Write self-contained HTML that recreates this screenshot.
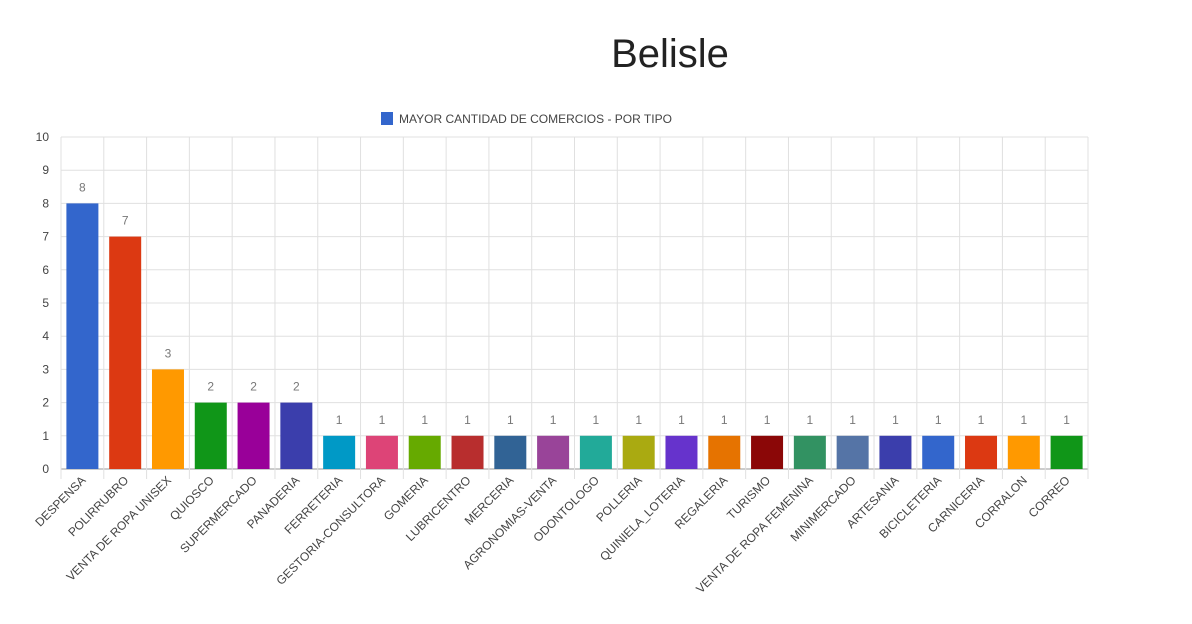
<!DOCTYPE html>
<html><head><meta charset="utf-8"><style>
body{margin:0;background:#fff;font-family:"Liberation Sans",Arial,sans-serif;}
</style></head><body>
<svg width="1192" height="619" xmlns="http://www.w3.org/2000/svg" id="chart">
<text x="670" y="67" text-anchor="middle" font-size="40" fill="#222">Belisle</text>
<g>
<rect x="381" y="112" width="12" height="13" fill="#3366cc"/>
<text x="399" y="123" font-size="12" fill="#444">MAYOR CANTIDAD DE COMERCIOS - POR TIPO</text>
</g>
<g id="grid"></g><g id="bars"></g><g id="labels"></g>
</svg>
<script>
const categories=["DESPENSA","POLIRRUBRO","VENTA DE ROPA UNISEX","QUIOSCO","SUPERMERCADO","PANADERIA","FERRETERIA","GESTORIA-CONSULTORA","GOMERIA","LUBRICENTRO","MERCERIA","AGRONOMIAS-VENTA","ODONTOLOGO","POLLERIA","QUINIELA_LOTERIA","REGALERIA","TURISMO","VENTA DE ROPA FEMENINA","MINIMERCADO","ARTESANIA","BICICLETERIA","CARNICERIA","CORRALON","CORREO"];
const values=[8,7,3,2,2,2,1,1,1,1,1,1,1,1,1,1,1,1,1,1,1,1,1,1];
const yTicks=[0,1,2,3,4,5,6,7,8,9,10];
const colors=["#3366cc","#dc3912","#ff9900","#109618","#990099","#3b3eac","#0099c6","#dd4477","#66aa00","#b82e2e","#316395","#994499","#22aa99","#aaaa11","#6633cc","#e67300","#8b0707","#329262","#5574a6","#3b3eac","#3366cc","#dc3912","#ff9900","#109618"];
const NS="http://www.w3.org/2000/svg";
const L=61,R=1088,T=137,B=469,yMax=10;
const bw=(R-L)/categories.length;
const y=v=>B-(v/yMax)*(B-T);
const x=i=>L+i*bw;
function mk(tag,attrs,parent){const e=document.createElementNS(NS,tag);for(const k in attrs)e.setAttribute(k,attrs[k]);document.getElementById(parent).appendChild(e);return e;}
yTicks.forEach(t=>{
 const l=mk("line",{x1:L,x2:R,y1:y(t),y2:y(t),stroke:t===0?"#999":"#e0e0e0","stroke-width":1},"grid");
 
 
 const tx=mk("text",{x:L-12,y:y(t)+4,"text-anchor":"end","font-size":12,fill:"#444"},"grid");
 tx.textContent=t;
 
 
});
for(let i=0;i<=categories.length;i++){
 const l=mk("line",{x1:x(i),x2:x(i),y1:T,y2:B+10,stroke:"#e0e0e0","stroke-width":1},"grid");
 
 
}
categories.forEach((c,i)=>{
 const cx=x(i)+bw/2,w=32;
 const r=mk("rect",{x:cx-w/2,y:y(values[i]),width:w,height:B-y(values[i]),fill:colors[i]},"bars");
 
 
 const v=mk("text",{x:cx,y:y(values[i])-12,"text-anchor":"middle","font-size":12,fill:"#777"},"labels");
 v.textContent=values[i];
 
 
 const t=mk("text",{x:cx+4,y:B+12,"text-anchor":"end","font-size":12,fill:"#444",transform:`rotate(-45 ${cx+4} ${B+12})`},"labels");
 t.textContent=c;
 
 
});
</script>
</body></html>
